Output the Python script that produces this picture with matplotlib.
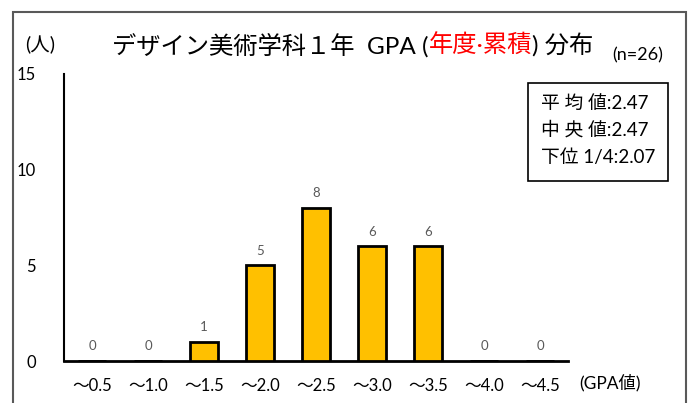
import matplotlib.pyplot as plt
from matplotlib.patches import Rectangle

plt.rcParams['font.family'] = ['Lato', 'Noto Sans CJK JP', 'DejaVu Sans']

cats = ["～0.5", "～1.0", "～1.5", "～2.0", "～2.5", "～3.0", "～3.5", "～4.0", "～4.5"]
counts = [0, 0, 1, 5, 8, 6, 6, 0, 0]
stats = ["平 均 値:2.47", "中 央 値:2.47", "下位 1/4:2.07"]

W, H = 692, 403
fig = plt.figure(figsize=(W / 100, H / 100), dpi=100)
ax = fig.add_axes([64 / W, (H - 361) / H, (568 - 64) / W, (361 - 74) / H])

x = range(len(cats))
ax.bar(x, counts, width=0.5, color="#FFC000", edgecolor="black", linewidth=2, zorder=3)
for i, v in enumerate(counts):
    ax.text(i, v + 0.45, str(v), ha="center", va="bottom", fontsize=9.5, color="#595959")

ax.set_xlim(-0.5, len(cats) - 0.5)
ax.set_ylim(0, 15)
ax.set_yticks([0, 5, 10, 15])
ax.set_xticks(list(x))
ax.set_xticklabels(cats)
ax.tick_params(axis="both", length=0, labelsize=12)
ax.tick_params(axis="x", pad=12)
ax.tick_params(axis="y", pad=20)
for s in ["top", "right"]:
    ax.spines[s].set_visible(False)
ax.spines["left"].set_linewidth(1.5)
ax.spines["bottom"].set_linewidth(2)

# outer frame
fig.patches.append(Rectangle((13 / W, -0.05), (686 - 13) / W, (H - 12) / H + 0.05,
                             transform=fig.transFigure, fill=False, edgecolor="#595959", linewidth=1.5))

# title in pieces
fs = 17.5
t1 = fig.text(112 / W, (H - 45) / H, "デザイン美術学科１年  GPA (", fontsize=fs, va="center", ha="left")
t2 = fig.text(0, 0, "年度·累積", fontsize=fs, color="#FF0000")
t3 = fig.text(0, 0, ") 分布", fontsize=fs)
fig.canvas.draw()
r = fig.canvas.get_renderer()
bb1 = t1.get_window_extent(r)
t2.set_transform(None)
t2.set_position((bb1.x1, bb1.y0))
t2.set_va("bottom")
bb2 = t2.get_window_extent(r)
t3.set_transform(None)
t3.set_position((bb2.x1, bb1.y0))
t3.set_va("bottom")

fig.text(25 / W, (H - 45) / H, "(人)", fontsize=14, va="center")
fig.text(612 / W, (H - 55) / H, "(n=26)", fontsize=13, va="center")
fig.text(579 / W, (H - 383) / H, "(GPA値)", fontsize=12.5, va="center")

fig.patches.append(Rectangle((528 / W, (H - 181) / H), 140 / W, 98 / H,
                             transform=fig.transFigure, fill=True, facecolor="white",
                             edgecolor="black", linewidth=1.2))
for k, s in enumerate(stats):
    fig.text(541 / W, (H - 103 - 27 * k) / H, s, fontsize=13.5, va="center")

fig.savefig("out.png", dpi=100)
